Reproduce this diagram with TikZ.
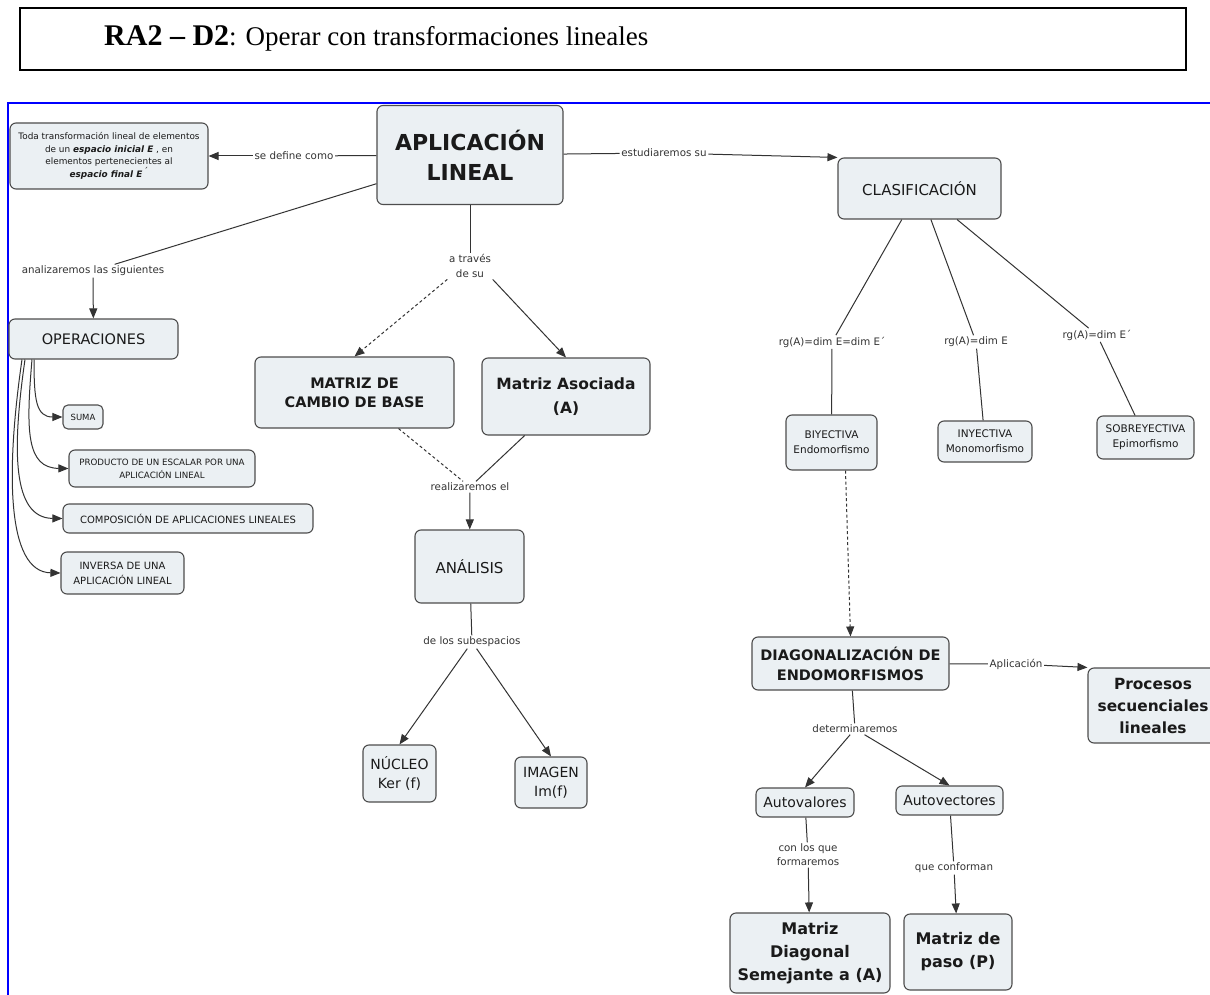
\documentclass[tikz,border=0pt]{standalone}
\usepackage{fontspec}
\usetikzlibrary{arrows.meta}
\newfontfamily\vf{DejaVu Sans}
\newfontfamily\tnr{Liberation Serif}
\newcommand\fsz[2]{\fontsize{#1}{#2}\selectfont}
\definecolor{boxfill}{HTML}{EBF0F3}
\definecolor{boxline}{HTML}{4D4D4D}
\definecolor{conn}{HTML}{333333}
\definecolor{txt}{HTML}{1A1A1A}
\tikzset{
  cbox/.style={draw=boxline, fill=boxfill, rounded corners=6pt, line width=1.1pt, align=center, inner sep=0pt, text=txt},
  fn/.style 2 args={font=\vf\fsz{#1}{#2}},
  fb/.style 2 args={font=\vf\fsz{#1}{#2}\bfseries},
  lab/.style={fill=white, inner sep=1.5pt, align=center, text=conn, font=\vf\fsz{10.3}{14}},
  conline/.style={draw=conn, line width=1pt},
  arr/.style={conline, -{Triangle[length=10pt,width=8pt]}},
  darr/.style={arr, dash pattern=on 3pt off 2.5pt},
  dline/.style={conline, dash pattern=on 3pt off 2.5pt},
}
\begin{document}
\begin{tikzpicture}[x=1pt,y=-1pt]
\useasboundingbox (0,0) rectangle (1210,995);
\clip (0,0) rectangle (1210,995);
\fill[white] (0,0) rectangle (1210,995);

% title
\node[draw=black, line width=2.5pt, minimum width=1166pt, minimum height=62pt, inner sep=0] (titlebox) at (603,39) {};
\node[anchor=base west, inner sep=0] (title) at (104,46) {\tnr\fsz{30}{30}\bfseries RA2 – D2\fsz{27}{30}\mdseries: Operar con transformaciones lineales};

% blue frame
\draw[blue, line width=2pt] (8,1000) -- (8,103) -- (1212,103);

% boxes
\node[cbox, fn={8.9}{12.7}, minimum width=198pt, minimum height=66pt] (toda) at (109,156) {Toda transformación lineal de elementos\\ de un \textbf{\textit{espacio inicial E}} , en\\ elementos pertenecientes al\\ \textbf{\textit{espacio final E}}\,\raisebox{0.6ex}{´}};
\node[cbox, fb={22}{30}, minimum width=186pt, minimum height=99pt] (apl) at (470,155) {APLICACIÓN\\ LINEAL};
\node[cbox, fn={15}{18}, minimum width=163pt, minimum height=61pt] (clas) at (919.5,188.5) {CLASIFICACIÓN};
\node[cbox, fn={14.5}{18}, minimum width=169pt, minimum height=40pt] (oper) at (93.5,339) {OPERACIONES};
\node[cbox, fn={8.5}{10}, minimum width=40pt, minimum height=24pt, rounded corners=5pt] (suma) at (83,417) {SUMA};
\node[cbox, fn={8.7}{13}, minimum width=186pt, minimum height=37pt] (prod) at (162,468.5) {PRODUCTO DE UN ESCALAR POR UNA\\ APLICACIÓN LINEAL};
\node[cbox, fn={10}{13}, minimum width=250pt, minimum height=29pt] (comp) at (188,518.5) {COMPOSICIÓN DE APLICACIONES LINEALES};
\node[cbox, fn={10}{15}, minimum width=123pt, minimum height=42pt] (inv) at (122.5,573) {INVERSA DE UNA\\ APLICACIÓN LINEAL};
\node[cbox, fb={14.5}{19}, minimum width=199pt, minimum height=71pt] (mcb) at (354.5,392.5) {MATRIZ DE\\ CAMBIO DE BASE};
\node[cbox, fb={15.5}{24}, minimum width=168pt, minimum height=77pt] (masoc) at (566,396.5) {Matriz Asociada\\ (A)};
\node[cbox, fn={15}{18}, minimum width=109pt, minimum height=73pt] (anal) at (469.5,566.5) {ANÁLISIS};
\node[cbox, fn={14}{19}, minimum width=73pt, minimum height=57pt] (nuc) at (399.5,773.5) {NÚCLEO\\ Ker (f)};
\node[cbox, fn={14}{19}, minimum width=72pt, minimum height=51pt] (img) at (551,782.5) {IMAGEN\\ Im(f)};
\node[cbox, fn={10.5}{15}, minimum width=91pt, minimum height=55pt] (biy) at (831.5,442.5) {BIYECTIVA\\ Endomorfismo};
\node[cbox, fn={10.5}{15}, minimum width=94pt, minimum height=41pt] (iny) at (985,441.5) {INYECTIVA\\ Monomorfismo};
\node[cbox, fn={10.5}{15}, minimum width=97pt, minimum height=43pt] (sob) at (1145.5,437.5) {SOBREYECTIVA\\ Epimorfismo};
\node[cbox, fb={14.5}{20}, minimum width=197pt, minimum height=53pt] (diag) at (850.5,663.5) {DIAGONALIZACIÓN DE\\ ENDOMORFISMOS};
\node[cbox, fb={15.4}{22}, minimum width=130pt, minimum height=75pt] (proc) at (1153,705.5) {Procesos\\ secuenciales\\ lineales};
\node[cbox, fn={14}{18}, minimum width=98pt, minimum height=29pt] (autoval) at (805,802.5) {Autovalores};
\node[cbox, fn={14}{18}, minimum width=107pt, minimum height=29pt] (autovec) at (949.5,800.5) {Autovectores};
\node[cbox, fb={16}{23}, minimum width=160pt, minimum height=80pt] (mdiag) at (810,953) {Matriz\\ Diagonal\\ Semejante a (A)};
\node[cbox, fb={16}{23}, minimum width=108pt, minimum height=76pt] (mpaso) at (958,952) {Matriz de\\ paso (P)};

% linking phrases
\node[lab] (lsedef) at (294,156) {se define como};
\node[lab] (lestud) at (664,153) {estudiaremos su};
\node[lab] (lanal) at (93,271) {analizaremos las siguientes};
\node[lab, font=\vf\fsz{10.3}{15}] (latrav) at (470,266) {a través\\ de su};
\node[lab] (lreal) at (470,487) {realizaremos el};
\node[lab] (lsubesp) at (472,642) {de los subespacios};
\node[lab] (lrg1) at (832,342) {rg(A)=dim E=dim E´};
\node[lab] (lrg2) at (976,342) {rg(A)=dim E};
\node[lab] (lrg3) at (1097,335) {rg(A)=dim E´};
\node[lab] (lapl) at (1016,664) {Aplicación};
\node[lab] (ldet) at (855,729) {determinaremos};
\node[lab] (lcon) at (808,855) {con los que\\ formaremos};
\node[lab] (lque) at (954,868) {que conforman};

% connectors
\draw[conline] (apl) -- (lsedef);
\draw[arr] (lsedef) -- (toda);
\draw[conline] (apl) -- (lestud);
\draw[arr] (lestud) -- (clas.north west);
\draw[conline] (apl) -- (lanal);
\draw[arr] (lanal) -- (oper);
\draw[conline] (apl) -- (latrav);
\draw[darr] (latrav.south west) -- (mcb.north);
\draw[arr] (latrav.south east) -- (masoc.north);
\draw[dline] (mcb) -- (lreal);
\draw[conline] (masoc) -- (lreal);
\draw[arr] (lreal) -- (anal);
\draw[conline] (anal) -- (lsubesp);
\draw[arr] (lsubesp) -- (nuc.north);
\draw[arr] (lsubesp) -- (img.north);
\draw[conline] (clas) -- (lrg1);
\draw[conline] (lrg1) -- (biy);
\draw[conline] (clas) -- (lrg2);
\draw[conline] (lrg2) -- (iny);
\draw[conline] (clas) -- (lrg3);
\draw[conline] (lrg3) -- (sob);
\draw[darr] ([xshift=14pt]biy.south) -- (diag.north);
\draw[conline] (diag) -- (lapl);
\draw[arr] (lapl) -- (proc.north west);
\draw[conline] (diag) -- (ldet);
\draw[arr] (ldet) -- (autoval.north);
\draw[arr] (ldet) -- (autovec.north);
\draw[conline] (autoval) -- (lcon);
\draw[arr] (lcon) -- (mdiag);
\draw[conline] (autovec) -- (lque);
\draw[arr] (lque) -- (mpaso);

% operaciones branches
\coordinate (o1) at (34,359.5);
\coordinate (o2) at (32,359.5);
\coordinate (o3) at (25,359.5);
\coordinate (o4) at (22,359.5);
\draw[arr] (o1) .. controls (34,400) and (36,417) .. (suma.west);
\draw[arr] (o2) .. controls (26,430) and (26,468) .. (prod.west);
\draw[arr] (o3) .. controls (12,450) and (12,518) .. (comp.west);
\draw[arr] (o4) .. controls (6,470) and (6,572) .. (inv.west);
\end{tikzpicture}
\end{document}
